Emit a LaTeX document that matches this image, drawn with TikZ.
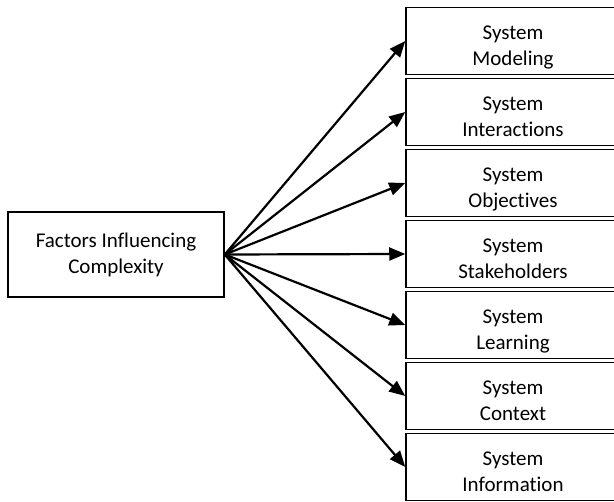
\documentclass[tikz,border=0pt]{standalone}
\usepackage{fontspec}
\setmainfont{Carlito}[Ligatures=NoCommon]
\usetikzlibrary{arrows.meta,positioning}

\begin{document}
\begin{tikzpicture}[
    x=1pt, y=-1pt,
    source/.style={rectangle, draw, line width=1.5pt, fill=white, minimum width=216pt, minimum height=85pt, align=center, font=\fontsize{21}{26}\selectfont},
    factor/.style={rectangle, draw, line width=1.5pt, fill=white, minimum width=214pt, minimum height=67pt, inner ysep=0pt, text height=55pt, text depth=6pt, align=center, font=\fontsize{21}{26}\selectfont},
    link/.style={line width=2.2pt, -{Triangle[length=16pt, width=13pt]}}
]

% Page
\useasboundingbox (0,0) rectangle (614,502);

% Main factor
\node[source] (factors) at (116,254.5) {Factors Influencing\\Complexity};

% Factors on the right
\node[factor] (modeling) at (513,41) {System\\Modeling};
\node[factor] (interactions) at (513,112) {System\\Interactions};
\node[factor] (objectives) at (513,183) {System\\Objectives};
\node[factor] (stakeholders) at (513,254) {System\\Stakeholders};
\node[factor] (learning) at (513,325) {System\\Learning};
\node[factor] (context) at (513,396) {System\\Context};
\node[factor] (information) at (513,467) {System\\Information};

% Arrows
\draw[link] (factors.east) -- (modeling.west);
\draw[link] (factors.east) -- (interactions.west);
\draw[link] (factors.east) -- (objectives.west);
\draw[link] (factors.east) -- (stakeholders.west);
\draw[link] (factors.east) -- (learning.west);
\draw[link] (factors.east) -- (context.west);
\draw[link] (factors.east) -- (information.west);

\end{tikzpicture}
\end{document}
